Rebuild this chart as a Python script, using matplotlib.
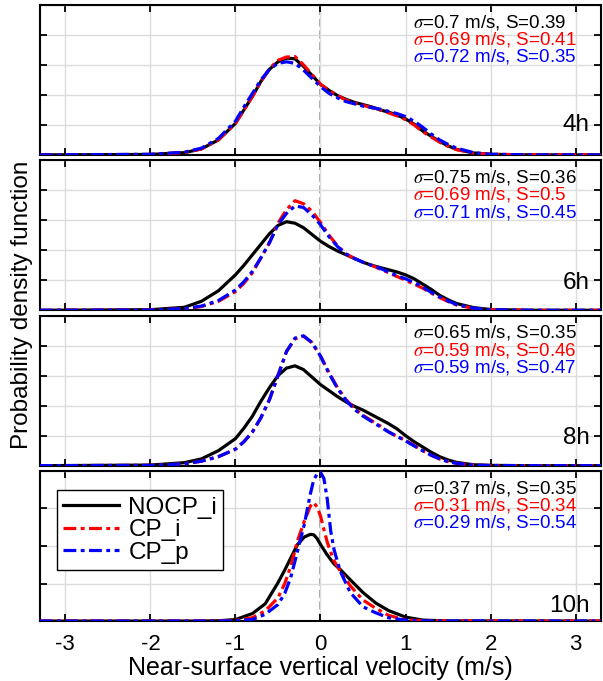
import matplotlib
matplotlib.use("Agg")
import matplotlib.pyplot as plt


plt.rcParams["font.family"] = ["Liberation Sans", "DejaVu Sans"]
plt.rcParams["mathtext.fontset"] = "stix"
plt.rcParams["axes.unicode_minus"] = False

# shared velocity grid (m/s) for the 4h / 6h / 8h panels
X_WIDE = [-3.3, -2.0, -1.6, -1.4, -1.2, -1.0, -0.9, -0.8, -0.7, -0.6, -0.5, -0.4,
          -0.3, -0.2, -0.1, 0.0, 0.1, 0.2, 0.3, 0.4, 0.5, 0.6, 0.7, 0.8, 0.9,
          1.0, 1.1, 1.2, 1.3, 1.4, 1.5, 1.6, 1.8, 2.0, 2.5, 3.3]

# 4h
NOCP_4H = [0, 0.003, 0.015, 0.04, 0.10, 0.21, 0.30, 0.39, 0.49, 0.57, 0.62, 0.645,
           0.64, 0.59, 0.53, 0.47, 0.43, 0.395, 0.37, 0.35, 0.335, 0.32, 0.30, 0.285, 0.265,
           0.24, 0.205, 0.16, 0.125, 0.09, 0.06, 0.037, 0.013, 0.004, 0, 0]
CPI_4H = [0, 0.003, 0.015, 0.04, 0.10, 0.21, 0.30, 0.39, 0.49, 0.575, 0.63, 0.652,
          0.655, 0.60, 0.535, 0.47, 0.43, 0.395, 0.365, 0.345, 0.33, 0.315, 0.30, 0.28, 0.26,
          0.235, 0.20, 0.155, 0.12, 0.085, 0.057, 0.035, 0.012, 0.004, 0, 0]
CPP_4H = [0, 0.004, 0.018, 0.045, 0.11, 0.225, 0.32, 0.41, 0.50, 0.57, 0.61, 0.62,
          0.61, 0.565, 0.51, 0.455, 0.41, 0.38, 0.355, 0.34, 0.325, 0.315, 0.305, 0.29, 0.275,
          0.255, 0.225, 0.185, 0.14, 0.10, 0.07, 0.045, 0.015, 0.004, 0, 0]

# 6h
NOCP_6H = [0, 0.004, 0.02, 0.06, 0.13, 0.236, 0.30, 0.37, 0.44, 0.51, 0.565, 0.59,
           0.58, 0.55, 0.505, 0.46, 0.425, 0.395, 0.37, 0.345, 0.32, 0.30, 0.285, 0.27, 0.255,
           0.236, 0.21, 0.175, 0.14, 0.10, 0.07, 0.045, 0.018, 0.005, 0, 0]
CPI_6H = [0, 0.002, 0.01, 0.025, 0.06, 0.124, 0.18, 0.25, 0.35, 0.45, 0.58, 0.67,
          0.73, 0.71, 0.66, 0.585, 0.50, 0.43, 0.375, 0.345, 0.32, 0.30, 0.275, 0.25, 0.225,
          0.20, 0.175, 0.148, 0.115, 0.085, 0.058, 0.035, 0.013, 0.004, 0, 0]
CPP_6H = [0, 0.002, 0.011, 0.028, 0.065, 0.135, 0.19, 0.26, 0.35, 0.45, 0.57, 0.645,
          0.695, 0.685, 0.635, 0.57, 0.49, 0.425, 0.375, 0.345, 0.32, 0.30, 0.28, 0.255, 0.23,
          0.21, 0.185, 0.155, 0.12, 0.09, 0.062, 0.038, 0.014, 0.004, 0, 0]

# 8h
NOCP_8H = [0, 0.004, 0.02, 0.045, 0.10, 0.18, 0.25, 0.33, 0.43, 0.52, 0.60, 0.65,
           0.665, 0.64, 0.59, 0.54, 0.50, 0.46, 0.425, 0.395, 0.37, 0.34, 0.31, 0.28, 0.245,
           0.20, 0.16, 0.125, 0.09, 0.06, 0.038, 0.022, 0.006, 0.002, 0, 0]
CPI_8H = [0, 0.002, 0.012, 0.03, 0.06, 0.11, 0.16, 0.225, 0.32, 0.44, 0.60, 0.76,
          0.845, 0.862, 0.82, 0.73, 0.62, 0.52, 0.44, 0.38, 0.335, 0.30, 0.265, 0.225, 0.195,
          0.169, 0.135, 0.10, 0.07, 0.045, 0.027, 0.016, 0.004, 0.001, 0, 0]
CPP_8H = [0, 0.002, 0.012, 0.03, 0.06, 0.11, 0.16, 0.225, 0.32, 0.44, 0.60, 0.76,
          0.85, 0.865, 0.82, 0.73, 0.615, 0.515, 0.435, 0.375, 0.33, 0.295, 0.26, 0.225, 0.195,
          0.165, 0.132, 0.10, 0.07, 0.045, 0.027, 0.016, 0.004, 0.001, 0, 0]

# 10h, finer grid around the narrow peak
X_NARROW = [-3.3, -1.5, -1.2, -1.0, -0.8, -0.65, -0.5, -0.42, -0.35, -0.27, -0.19, -0.12,
            -0.08, -0.04, 0.0, 0.04, 0.08, 0.12, 0.16, 0.23, 0.35, 0.5, 0.65, 0.8, 1.0,
            1.2, 1.5, 3.3]
NOCP_10H = [0, 0.0, 0.004, 0.02, 0.10, 0.23, 0.51, 0.68, 0.84, 1.02, 1.12, 1.155,
            1.15, 1.10, 1.02, 0.95, 0.88, 0.82, 0.76, 0.69, 0.55, 0.38, 0.24, 0.14, 0.053,
            0.013, 0.002, 0]
CPI_10H = [0, 0.0, 0.002, 0.01, 0.045, 0.135, 0.31, 0.50, 0.73, 1.07, 1.33, 1.53,
           1.58, 1.52, 1.40, 1.22, 1.05, 0.92, 0.80, 0.67, 0.47, 0.28, 0.17, 0.075, 0.018,
           0.004, 0.001, 0]
CPP_10H = [0, 0.0, 0.001, 0.005, 0.02, 0.09, 0.22, 0.37, 0.58, 0.93, 1.29, 1.69,
           1.88, 1.96, 1.98, 1.90, 1.62, 1.20, 0.95, 0.67, 0.38, 0.19, 0.11, 0.044, 0.013,
           0.003, 0.001, 0]

PANELS = [
    ("4h", X_WIDE, NOCP_4H, CPI_4H, CPP_4H, 1.0, 0.2, 0.2),
    ("6h", X_WIDE, NOCP_6H, CPI_6H, CPP_6H, 1.0, 0.2, 0.18),
    ("8h", X_WIDE, NOCP_8H, CPI_8H, CPP_8H, 1.0, 0.2, 0.187),
    ("10h", X_NARROW, NOCP_10H, CPI_10H, CPP_10H, 2.0, 0.5, 0.1),
]

STATS = [
    [(0.7, 0.39), (0.69, 0.41), (0.72, 0.35)],
    [(0.75, 0.36), (0.69, 0.5), (0.71, 0.45)],
    [(0.65, 0.35), (0.59, 0.46), (0.59, 0.47)],
    [(0.37, 0.35), (0.31, 0.34), (0.29, 0.54)],
]

LABELS = ["NOCP_i", "CP_i", "CP_p"]
COLORS = ["black", "red", "blue"]
DASHDOT = (0, (4, 1.4, 1.2, 1.4))
STYLES = ["-", DASHDOT, DASHDOT]

fig, axes = plt.subplots(4, 1, figsize=(6.03, 6.81), dpi=100, sharex=True)
fig.subplots_adjust(left=0.066, right=0.997, top=0.993, bottom=0.088, hspace=0.035)

for k, (ax, panel) in enumerate(zip(axes, PANELS)):
    name, x, nocp, cpi, cpp, ymax, ystep, hy = panel
    ax.grid(True, color="#dcdcdc", linewidth=1.0)
    ax.axvline(0, color="#a0a0a0", linestyle=(0, (4, 2)), linewidth=1.4, zorder=1.5)
    for series, label, color, style in zip([nocp, cpi, cpp], LABELS, COLORS, STYLES):
        ax.plot(x, series, color=color, linestyle=style, linewidth=2.3, label=label, zorder=3)

    ax.set_xlim(-3.3, 3.3)
    ax.set_ylim(0, ymax)
    ax.set_xticks(range(-3, 4))
    n = int(round(ymax / ystep))
    ax.set_yticks([ystep * i for i in range(n + 1)])
    ax.set_yticklabels([])
    ax.tick_params(direction="in", length=5, width=1.3, top=True, right=True,
                   labelsize=16, pad=9)
    for sp in ax.spines.values():
        sp.set_linewidth(1.5)

    for j, ((sig, s), color) in enumerate(zip(STATS[k], COLORS)):
        ax.text(0.665, 0.851 - 0.115 * j, r"$\sigma$=%g m/s, S=%g" % (sig, s),
                transform=ax.transAxes, ha="left", va="baseline", color=color, fontsize=13.5)
    ax.text(0.98, hy, name, transform=ax.transAxes, ha="right", va="center", fontsize=17.5)

axes[-1].legend(loc="upper left", bbox_to_anchor=(0.03, 0.87), fontsize=17.5, frameon=True,
                fancybox=False, edgecolor="black", framealpha=1, handlelength=2.3,
                borderpad=0.25, labelspacing=0.02, handletextpad=0.4, borderaxespad=0)
axes[-1].get_legend().get_frame().set_linewidth(1.0)

axes[-1].set_xlabel("Near-surface vertical velocity (m/s)", fontsize=18, labelpad=1)
fig.text(0.036, 0.553, "Probability density function", rotation=90, ha="center",
         va="center", fontsize=17.5)

fig.savefig("out.png", dpi=100)
